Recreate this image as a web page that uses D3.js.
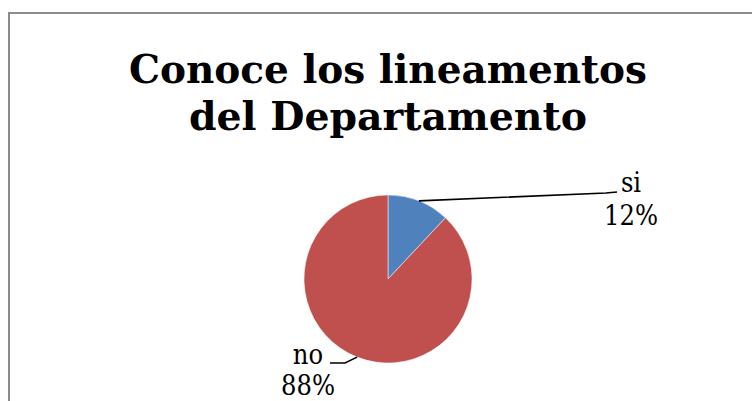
<!DOCTYPE html>
<html>
<head>
<meta charset="utf-8">
<script src="https://cdn.jsdelivr.net/npm/d3@7"></script>
<style>
  html, body { margin: 0; padding: 0; background: #fff; }
  svg { display: block; }
</style>
</head>
<body>
<svg id="chart"></svg>
<script>
// data
var categories = ['si', 'no'];
var values = [12, 88];
var sliceColors = ['#4F81BD', '#C0504D'];
var titleLines = ['Conoce los lineamentos', 'del Departamento'];

var width = 752, height = 401;
var cx = 388, cy = 279, radius = 84;

var svg = d3.select('#chart')
  .attr('width', width)
  .attr('height', height);

// chart frame
svg.append('rect')
  .attr('x', 9)
  .attr('y', 13)
  .attr('width', width + 20)
  .attr('height', height + 20)
  .attr('fill', '#fff')
  .attr('stroke', '#8c8c8c')
  .attr('stroke-width', 2);

// title, two lines
var titleWidths = [518, 398];
svg.selectAll('text.title')
  .data(titleLines)
  .enter()
  .append('text')
  .attr('class', 'title')
  .attr('x', cx)
  .attr('y', function (d, i) { return 83 + i * 47; })
  .attr('text-anchor', 'middle')
  .attr('font-family', '"DejaVu Serif Condensed", "DejaVu Serif", serif')
  .attr('font-weight', 'bold')
  .attr('font-size', 40)
  .attr('textLength', function (d, i) { return titleWidths[i]; })
  .attr('lengthAdjust', 'spacingAndGlyphs')
  .attr('fill', '#000')
  .text(function (d) { return d; });

// pie
var pie = d3.pie().sort(null).value(function (d) { return d; });
var arcs = pie(values);
var arc = d3.arc().innerRadius(0).outerRadius(radius);
var edgeArc = d3.arc().innerRadius(radius).outerRadius(radius);

var g = svg.append('g').attr('transform', 'translate(' + cx + ',' + cy + ')');

g.selectAll('path.slice')
  .data(arcs)
  .enter()
  .append('path')
  .attr('class', 'slice')
  .attr('d', arc)
  .attr('fill', function (d, i) { return sliceColors[i]; })
  .attr('stroke', '#fff')
  .attr('stroke-width', 0.5);

// leader ends and label centres, relative to pie centre
var leaderEnds = [[229, -87], [-58, 84]];
var bendOffsets = [[-11, 1], [15, 0]];
var labelShift = [14, -22];
var total = d3.sum(values);

arcs.forEach(function (d, i) {
  var start = edgeArc.centroid(d);
  var end = leaderEnds[i];
  var bend = [end[0] + bendOffsets[i][0], end[1] + bendOffsets[i][1]];
  g.append('path')
    .attr('d', d3.line()([start, bend, end]))
    .attr('fill', 'none')
    .attr('stroke', '#000')
    .attr('stroke-width', 1.6);

  var lx = end[0] + labelShift[i];
  var label = g.append('text')
    .attr('font-family', '"DejaVu Serif Condensed", "DejaVu Serif", serif')
    .attr('font-size', 27)
    .attr('fill', '#000')
    .attr('text-anchor', 'middle');
  label.append('tspan')
    .attr('x', lx)
    .attr('y', i === 0 ? end[1] + 0 : end[1] + 1)
    .text(categories[i]);
  label.append('tspan')
    .attr('x', lx)
    .attr('y', i === 0 ? end[1] + 33 : end[1] + 32)
    .text(Math.round(values[i] / total * 100) + '%');
});
</script>
</body>
</html>
